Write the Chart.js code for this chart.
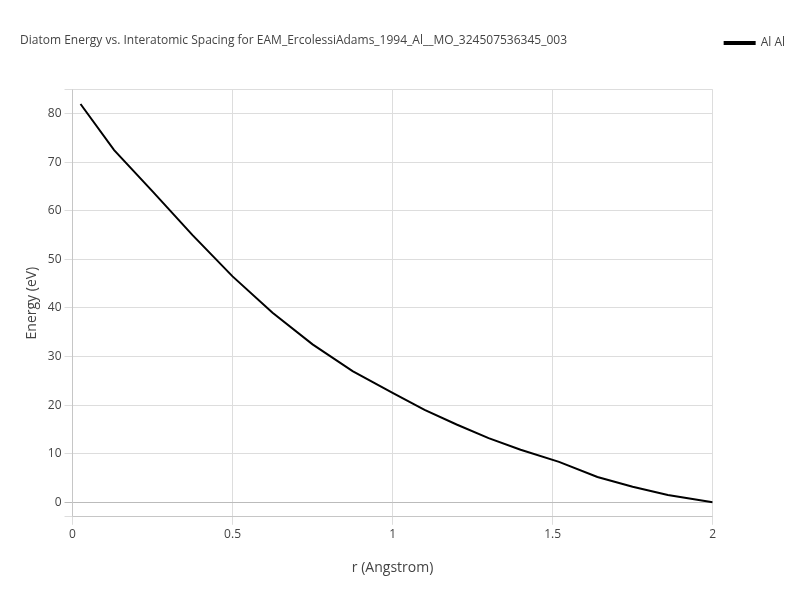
<!DOCTYPE html>
<html>
<head>
<script src="https://cdn.jsdelivr.net/npm/chart.js@4"></script>
<style>
  body { margin: 0; background: #fff; }
  #wrap { width: 800px; height: 600px; }
</style>
</head>
<body>
<div id="wrap"><canvas id="diatomChart" width="800" height="600"></canvas></div>
<script>
// Values
const rValues = [0.025, 0.13, 0.25, 0.375, 0.5, 0.625, 0.75, 0.875, 1.0, 1.1, 1.2, 1.3, 1.4, 1.52, 1.64, 1.75, 1.86, 2.0];
const energyValues = [82, 72.5, 64, 55, 46.5, 39, 32.5, 27, 22.5, 19, 16, 13.2, 10.8, 8.3, 5.2, 3.2, 1.5, 0];
const seriesLabel = "Al Al";

const points = rValues.map((r, i) => ({ x: r, y: energyValues[i] }));

const ctx = document.getElementById("diatomChart").getContext("2d");
new Chart(ctx, {
  type: "scatter",
  data: {
    datasets: [{
      label: seriesLabel,
      data: points,
      showLine: true,
      borderColor: "#000",
      backgroundColor: "#000",
      borderWidth: 2,
      pointRadius: 0,
      tension: 0
    }]
  },
  options: {
    responsive: false,
    animation: false,
    layout: { padding: { top: 25, right: 5, left: 20, bottom: 20 } },
    scales: {
      x: {
        type: "linear", min: 0, max: 2,
        ticks: { stepSize: 0.5, color: "#444", font: { family: "Open Sans", size: 12 },
                 callback: v => String(v) },
        grid: { color: "#ddd" },
        title: { display: true, text: "r (Angstrom)", color: "#444", padding: { top: 14 }, font: { family: "Open Sans", size: 14 } }
      },
      y: {
        min: -3, max: 85,
        ticks: { stepSize: 10, color: "#444", font: { family: "Open Sans", size: 12 },
                 callback: v => (v % 10 === 0 ? v : "") },
        grid: { color: ctx => (ctx.tick && ctx.tick.value === 0 ? "#bbb" : "#ddd") },
        title: { display: true, text: "Energy (eV)", color: "#444", font: { family: "Open Sans", size: 14 } }
      }
    },
    plugins: {
      title: {
        display: true,
        text: "Diatom Energy vs. Interatomic Spacing for EAM_ErcolessiAdams_1994_Al__MO_324507536345_003",
        color: "#444", align: "start",
        font: { family: "Open Sans", size: 12, weight: "normal" },
        padding: { top: 8, bottom: 42 }
      },
      legend: {
        position: "right", align: "start",
        labels: { color: "#444", boxWidth: 30, boxHeight: 2, padding: 12, font: { family: "Open Sans", size: 12 } }
      },
      tooltip: { enabled: false }
    }
  }
});
</script>
</body>
</html>
